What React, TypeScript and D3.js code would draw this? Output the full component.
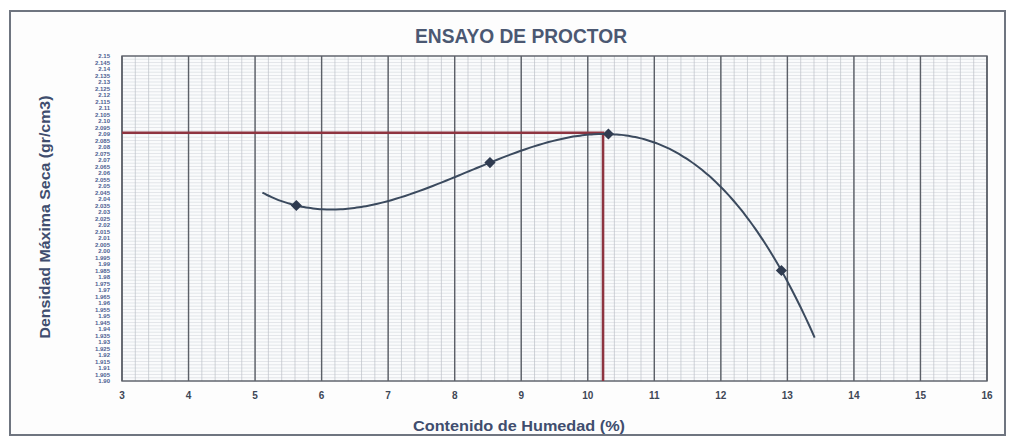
import React, { useEffect, useRef } from "react";
import * as d3 from "d3";

// Proctor test points (humedad %, densidad gr/cm3)
const humedad = [5.62, 8.53, 10.31, 12.91];
const densidad = [2.035, 2.068, 2.09, 1.985];
// polynomial trend range drawn in the original sheet
const trendRange = [5.11, 13.41];
// optimum read-off (red lines)
const optHumedad = 10.23;
const maxDensidad = 2.091;

const xTicks = d3.range(3, 17, 1);
const yDomain = [1.9, 2.15];
const yStep = 0.005;

const font = "'Liberation Sans', Arial, sans-serif";

// cubic through the 4 points (Excel order-3 trendline)
function lagrange(xs: number[], ys: number[]) {
  return (x: number) =>
    xs.reduce((sum, xi, i) => {
      let term = ys[i];
      xs.forEach((xj, j) => {
        if (j !== i) term *= (x - xj) / (xi - xj);
      });
      return sum + term;
    }, 0);
}

const ProctorChart: React.FC = () => {
  const svgRef = useRef<SVGSVGElement | null>(null);
  const width = 1015;
  const height = 441;

  useEffect(() => {
    const margin = { top: 56, right: 28, bottom: 60, left: 122 };
    const innerWidth = width - margin.left - margin.right;
    const innerHeight = height - margin.top - margin.bottom;

    const svg = d3.select(svgRef.current);
    svg.selectAll("*").remove();

    // outer frame
    svg
      .append("rect")
      .attr("x", 10)
      .attr("y", 11)
      .attr("width", 995)
      .attr("height", 424)
      .attr("fill", "#fdfdfd")
      .attr("stroke", "#6f7580")
      .attr("stroke-width", 2);

    svg
      .append("text")
      .attr("x", 521)
      .attr("y", 43)
      .attr("text-anchor", "middle")
      .attr("font-family", font)
      .attr("font-weight", "bold")
      .attr("font-size", 20)
      .attr("textLength", 212)
      .attr("lengthAdjust", "spacingAndGlyphs")
      .attr("fill", "#4b5872")
      .text("ENSAYO DE PROCTOR");

    const chart = svg.append("g").attr("transform", `translate(${margin.left},${margin.top})`);

    const x = d3.scaleLinear().domain([3, 16]).range([0, innerWidth]);
    const y = d3.scaleLinear().domain(yDomain).range([innerHeight, 0]);

    chart
      .append("rect")
      .attr("width", innerWidth)
      .attr("height", innerHeight)
      .attr("fill", "#fafbfc");

    // minor grid
    const yMinor = d3.range(yDomain[0], yDomain[1] + 1e-9, yStep / 2);
    chart
      .selectAll("line.hminor")
      .data(yMinor)
      .enter()
      .append("line")
      .attr("x1", 0)
      .attr("x2", innerWidth)
      .attr("y1", (d) => y(d))
      .attr("y2", (d) => y(d))
      .attr("stroke", "#d5d8de")
      .attr("stroke-width", 0.6);

    const xMinor = d3.range(3, 16.001, 0.2);
    chart
      .selectAll("line.vminor")
      .data(xMinor)
      .enter()
      .append("line")
      .attr("x1", (d) => x(d))
      .attr("x2", (d) => x(d))
      .attr("y1", 0)
      .attr("y2", innerHeight)
      .attr("stroke", "#bcc0c7")
      .attr("stroke-width", 0.7);

    // major verticals
    chart
      .selectAll("line.vmajor")
      .data(xTicks)
      .enter()
      .append("line")
      .attr("x1", (d) => x(d))
      .attr("x2", (d) => x(d))
      .attr("y1", 0)
      .attr("y2", innerHeight)
      .attr("stroke", "#5c6068")
      .attr("stroke-width", 1.4);

    chart
      .append("rect")
      .attr("width", innerWidth)
      .attr("height", innerHeight)
      .attr("fill", "none")
      .attr("stroke", "#5c6068")
      .attr("stroke-width", 1.4);

    // x tick labels
    chart
      .selectAll("text.xt")
      .data(xTicks)
      .enter()
      .append("text")
      .attr("x", (d) => x(d))
      .attr("y", innerHeight + 18)
      .attr("text-anchor", "middle")
      .attr("font-family", font)
      .attr("font-weight", "bold")
      .attr("font-size", 10)
      .attr("fill", "#3e4656")
      .text((d) => d);

    // y tick labels (dense, as in the sheet)
    const yTicks = d3.range(yDomain[0], yDomain[1] + 1e-9, yStep);
    chart
      .selectAll("text.yt")
      .data(yTicks)
      .enter()
      .append("text")
      .attr("x", -12)
      .attr("y", (d) => y(d) + 2.2)
      .attr("text-anchor", "end")
      .attr("font-family", font)
      .attr("font-weight", "bold")
      .attr("font-size", 6)
      .attr("fill", "#4d5e92")
      .text((d) => d3.format(".3f")(d).replace(/0$/, ""));

    // red read-off lines
    chart
      .append("path")
      .attr("d", `M0,${y(maxDensidad)}H${x(optHumedad)}V${innerHeight}`)
      .attr("fill", "none")
      .attr("stroke", "#8e3440")
      .attr("stroke-width", 2.5);

    // trend curve
    const f = lagrange(humedad, densidad);
    const xs = d3.range(trendRange[0], trendRange[1] + 1e-9, (trendRange[1] - trendRange[0]) / 120);
    const line = d3
      .line<number>()
      .x((d) => x(d))
      .y((d) => y(f(d)))
      .curve(d3.curveMonotoneX);
    chart
      .append("path")
      .datum(xs)
      .attr("d", line)
      .attr("fill", "none")
      .attr("stroke", "#3b4a5e")
      .attr("stroke-width", 2);

    // markers
    chart
      .selectAll("path.pt")
      .data(humedad)
      .enter()
      .append("path")
      .attr("d", d3.symbol(d3.symbolDiamond2, 80)())
      .attr("transform", (d, i) => `translate(${x(d)},${y(densidad[i])})`)
      .attr("fill", "#2f3b50");

    // axis titles
    svg
      .append("text")
      .attr("x", 519)
      .attr("y", 431)
      .attr("text-anchor", "middle")
      .attr("font-family", font)
      .attr("font-weight", "bold")
      .attr("font-size", 15)
      .attr("textLength", 212)
      .attr("lengthAdjust", "spacingAndGlyphs")
      .attr("fill", "#404d6e")
      .text("Contenido de Humedad (%)");

    svg
      .append("text")
      .attr("transform", "translate(50,217) rotate(-90)")
      .attr("text-anchor", "middle")
      .attr("font-family", font)
      .attr("font-weight", "bold")
      .attr("font-size", 14)
      .attr("textLength", 243)
      .attr("lengthAdjust", "spacingAndGlyphs")
      .attr("fill", "#404d6e")
      .text("Densidad Máxima Seca  (gr/cm3)");
  }, []);

  return (
    <svg
      ref={svgRef}
      width={width}
      height={height}
      style={{ position: "absolute", left: 0, top: 0, display: "block" }}
    ></svg>
  );
};

export default function App() {
  return <ProctorChart />;
}
